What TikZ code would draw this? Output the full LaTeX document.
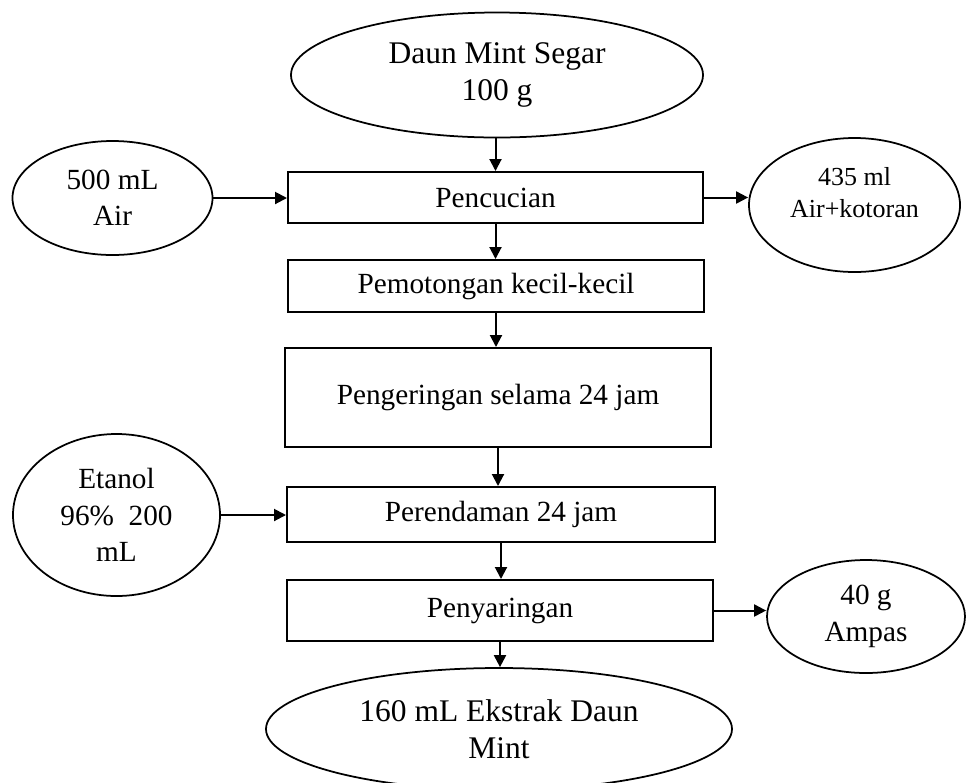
\documentclass[tikz,border=0pt]{standalone}
\usepackage{fontspec}
\setmainfont{Liberation Serif}
\usetikzlibrary{arrows.meta,shapes.geometric}

\begin{document}
\begin{tikzpicture}[x=0.4pt,y=-0.4pt,>={Triangle[length=4.8pt,width=4.8pt]},line width=0.8pt]
  \tikzstyle{proses}=[draw,rectangle,inner sep=0pt,align=center,font=\fontsize{11.7}{14.6}\selectfont]
  \tikzstyle{bahan}=[draw,ellipse,inner sep=0pt,align=center,line width=0.7pt,font=\fontsize{11.7}{14.6}\selectfont]
  \clip (0,0) rectangle (966,782);

  % Alur utama
  \node[bahan,minimum width=164.8pt,minimum height=50pt,font=\fontsize{12.6}{14.6}\selectfont] (daun) at (497,75) {Daun Mint Segar\\100 g};
  \node[proses,minimum width=166pt,minimum height=20.4pt] (cuci) at (495.5,197.5) {Pencucian};
  \node[proses,minimum width=166.4pt,minimum height=20.8pt] (potong) at (496,286) {Pemotongan kecil-kecil};
  \node[proses,minimum width=170.4pt,minimum height=39.6pt] (kering) at (498,397.5) {Pengeringan selama 24 jam};
  \node[proses,minimum width=171.2pt,minimum height=22pt] (rendam) at (501,514.5) {Perendaman 24 jam};
  \node[proses,minimum width=170.4pt,minimum height=24.4pt] (saring) at (500,610.5) {Penyaringan};
  \node[bahan,minimum width=186.4pt,minimum height=48.8pt,font=\fontsize{12.6}{14.6}\selectfont] (ekstrak) at (499,729) {160 mL Ekstrak Daun\\Mint};

  % Masukan dan keluaran
  \node[bahan,minimum width=80pt,minimum height=45.6pt] (air) at (112.5,198) {500 mL\\Air};
  \node[bahan,minimum width=84.4pt,minimum height=53.6pt,
    label={[yshift=5pt,align=center,font=\fontsize{10.4}{13}\selectfont]center:435 ml\\Air+kotoran}] (kotor) at (854.5,205) {};
  \node[bahan,minimum width=82.8pt,minimum height=64.8pt] (etanol) at (116.5,515) {Etanol\\96\%~~200\\mL};
  \node[bahan,minimum width=79.2pt,minimum height=45.2pt] (ampas) at (866,616.5) {40 g\\Ampas};

  % Panah
  \draw[->] (daun.south -| cuci.north) -- (cuci.north);
  \draw[->] (air.east) -- (air.east -| cuci.west);
  \draw[->] (cuci.east) -- (cuci.east -| kotor.west);
  \draw[->] (cuci.south) -- (cuci.south |- potong.north);
  \draw[->] (potong.south) -- (potong.south |- kering.north);
  \draw[->] (kering.south) -- (kering.south |- rendam.north);
  \draw[->] (etanol.east) -- (etanol.east -| rendam.west);
  \draw[->] (rendam.south) -- (rendam.south |- saring.north);
  \draw[->] (saring.east) -- (saring.east -| ampas.west);
  \draw[->] (saring.south) -- (saring.south |- ekstrak.north);
\end{tikzpicture}
\end{document}
